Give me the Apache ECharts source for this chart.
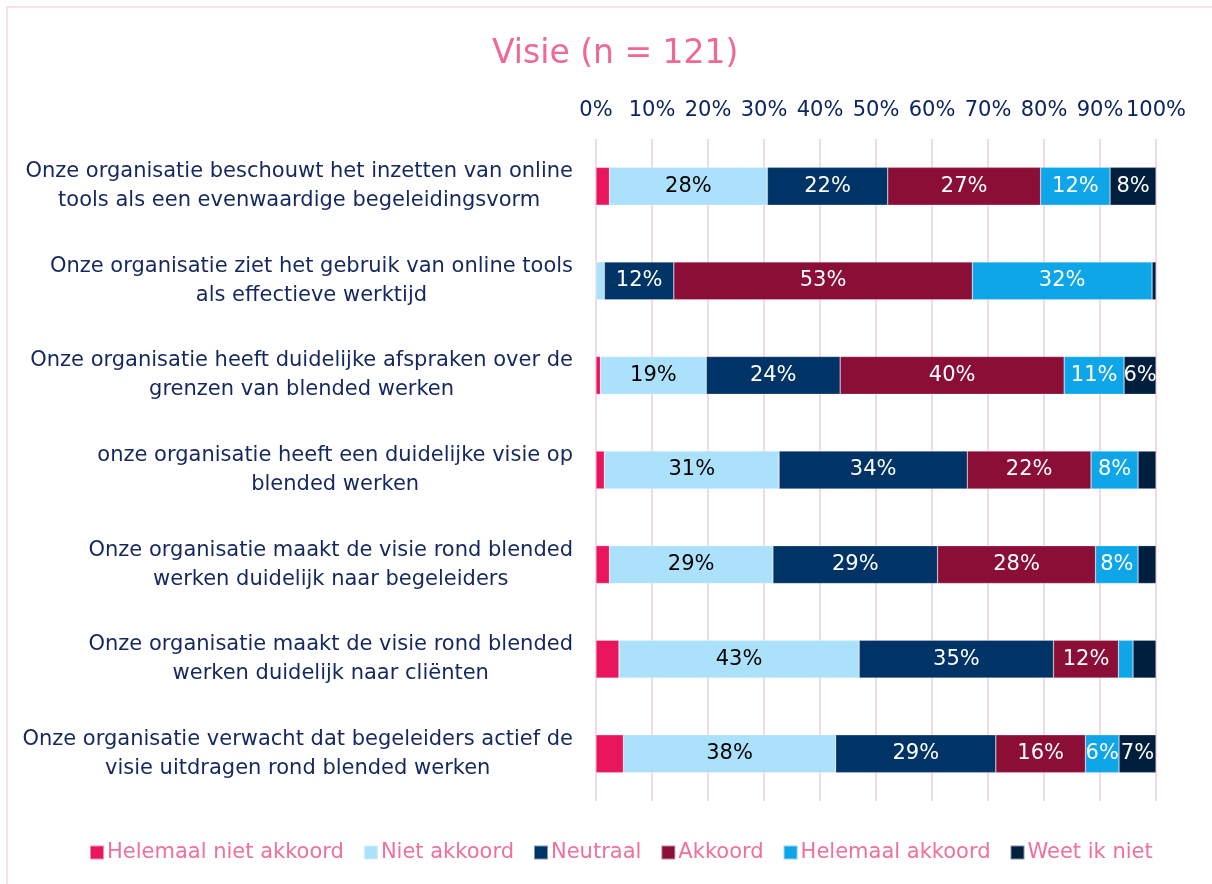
<!DOCTYPE html>
<html>
<head>
<meta charset="utf-8">
<script src="https://cdn.jsdelivr.net/npm/echarts@6/dist/echarts.min.js"></script>
<style>
  html, body { margin: 0; padding: 0; background: #fff; }
  #grafiek { width: 1212px; height: 884px; }
</style>
</head>
<body>
<div id="grafiek"></div>
<script>
// Stellingen (van boven naar beneden)
const stellingen = [
    "Onze organisatie beschouwt het inzetten van online\ntools als een evenwaardige begeleidingsvorm",
    "Onze organisatie ziet het gebruik van online tools\nals effectieve werktijd",
    "Onze organisatie heeft duidelijke afspraken over de\ngrenzen van blended werken",
    "onze organisatie heeft een duidelijke visie op\nblended werken",
    "Onze organisatie maakt de visie rond blended\nwerken duidelijk naar begeleiders",
    "Onze organisatie maakt de visie rond blended\nwerken duidelijk naar cliënten",
    "Onze organisatie verwacht dat begeleiders actief de\nvisie uitdragen rond blended werken"
];

// Antwoordcategorieën
const antwoorden = ["Helemaal niet akkoord", "Niet akkoord", "Neutraal", "Akkoord", "Helemaal akkoord", "Weet ik niet"];

// Percentages per antwoord, per stelling
const helemaalNietAkkoord = [2.4, 0, 0.8, 1.5, 2.4, 4.1, 4.9];
const nietAkkoord = [28.2, 1.5, 18.9, 31.2, 29.2, 42.9, 37.9];
const neutraal = [21.5, 12.4, 23.9, 33.6, 29.4, 34.7, 28.6];
const akkoord = [27.3, 53.3, 40.0, 22.1, 28.2, 11.6, 16.0];
const helemaalAkkoord = [12.4, 32.1, 10.7, 8.4, 7.6, 2.6, 6.0];
const weetIkNiet = [8.2, 0.7, 5.7, 3.2, 3.2, 4.1, 6.6];

// Tickwaarden van de x-as
const tickMin = 0;
const tickMax = 100;
const tickStap = 10;

const kleuren = ["#E8175D", "#ABE1FA", "#003366", "#8B0E37", "#0FA6E9", "#001F3F"];
const labelKleuren = ["#fff", "#000", "#fff", "#fff", "#fff", "#fff"];
const waarden = [helemaalNietAkkoord, nietAkkoord, neutraal, akkoord, helemaalAkkoord, weetIkNiet];

const lettertype = "'DejaVu Sans', Verdana, sans-serif";

// Bouwt de reeksen voor de gestapelde balken
const series = antwoorden.map((naam, i) => ({
    type: 'bar',
    name: naam,
    stack: 'totaal',
    barWidth: '40%',
    data: waarden[i],
    itemStyle: {
        color: kleuren[i],
        borderColor: 'rgba(255,255,255,0.5)',
        borderWidth: 0.5
    },
    label: {
        show: true,
        position: 'inside',
        color: labelKleuren[i],
        fontFamily: lettertype,
        fontSize: 21,
        // kleine stukjes krijgen geen label
        formatter: p => p.value >= 5.5 ? Math.round(p.value) + '%' : ''
    }
}));

const chart = echarts.init(document.getElementById('grafiek'));
chart.setOption({
    animation: false,
    textStyle: { fontFamily: lettertype },
    title: {
        text: 'Visie (n = 121)',
        left: 487,
        top: 33,
        textStyle: {
            color: '#F06895',
            fontSize: 33,
            fontWeight: 'normal',
            fontFamily: lettertype
        }
    },
    legend: {
        bottom: 16,
        left: 84,
        itemWidth: 14,
        itemHeight: 14,
        itemGap: 19,
        icon: 'rect',
        textStyle: {
            color: '#F0709A',
            fontSize: 21,
            fontFamily: lettertype,
            padding: [0, 0, 0, -2]
        }
    },
    grid: {
        left: 596,
        right: 56,
        top: 139,
        bottom: 83
    },
    xAxis: {
        type: 'value',
        position: 'top',
        min: tickMin,
        max: tickMax,
        interval: tickStap,
        axisLine: { show: false },
        axisTick: { show: false },
        axisLabel: {
            formatter: '{value}%',
            color: '#0C2461',
            fontSize: 21,
            margin: 18
        },
        splitLine: {
            show: true,
            lineStyle: { color: '#FAD6E3', width: 2 }
        }
    },
    yAxis: {
        type: 'category',
        data: stellingen,
        inverse: true,
        axisLine: { show: false },
        axisTick: { show: false },
        axisLabel: {
            margin: 23,
            color: '#14285F',
            fontSize: 21,
            lineHeight: 29,
            formatter: v => v.split('\n').map(r => '{a|' + r + '}').join('\n'),
            rich: {
                a: { align: 'center', fontSize: 21, lineHeight: 29, color: '#14285F', fontFamily: lettertype }
            }
        }
    },
    // Roze kader rond de grafiek
    graphic: [{
        type: 'rect',
        shape: { x: 7, y: 7, width: 1230, height: 900 },
        style: { fill: 'none', stroke: '#FCDDE8', lineWidth: 2 },
        silent: true
    }],
    series
});
</script>
</body>
</html>
